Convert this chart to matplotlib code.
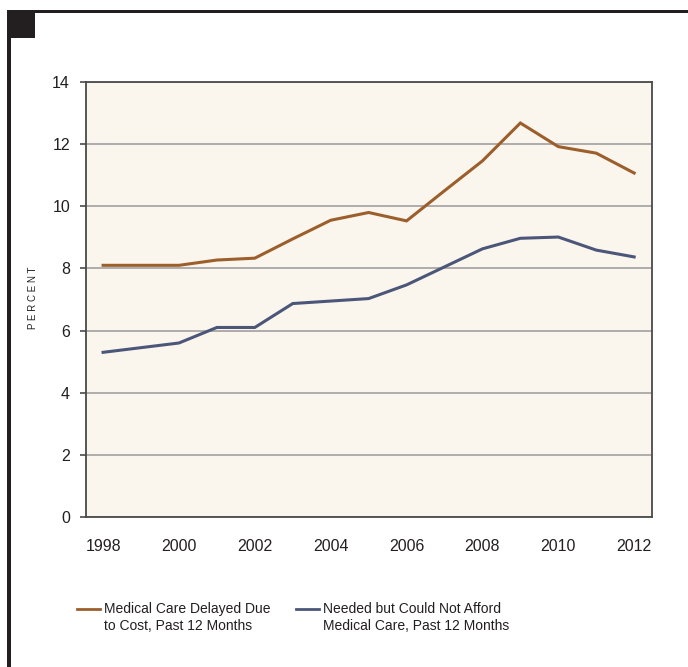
import matplotlib.pyplot as plt
from matplotlib.patches import Rectangle
from matplotlib.lines import Line2D

plt.rcParams['font.family'] = ['Liberation Sans', 'DejaVu Sans']

years = [1998, 1999, 2000, 2001, 2002, 2003, 2004, 2005, 2006, 2007, 2008, 2009, 2010, 2011, 2012]
delayed = [8.1, 8.1, 8.1, 8.27, 8.33, 8.95, 9.55, 9.8, 9.53, 10.5, 11.46, 12.68, 11.92, 11.71, 11.07]
not_afford = [5.3, 5.45, 5.6, 6.1, 6.1, 6.87, 6.95, 7.03, 7.47, 8.05, 8.63, 8.97, 9.01, 8.59, 8.37]

labels = ['Medical Care Delayed Due\nto Cost, Past 12 Months',
          'Needed but Could Not Afford\nMedical Care, Past 12 Months']
colors = ['#9C5F2C', '#4B5679']

fig = plt.figure(figsize=(6.88, 6.67), dpi=100)
W, H = 688, 667
ax = fig.add_axes([86 / W, 1 - 517 / H, (652 - 86) / W, (517 - 82) / H])

ax.set_facecolor('#FAF6EE')
ax.plot(years, delayed, color=colors[0], lw=2.2, solid_joinstyle='miter')
ax.plot(years, not_afford, color=colors[1], lw=2.2, solid_joinstyle='miter')

ax.set_xlim(1997.55, 2012.47)
ax.set_ylim(0, 14)
ax.set_xticks(range(1998, 2013, 2))
ax.set_yticks(range(0, 15, 2))
ax.yaxis.grid(True, color='#A0A0A0', lw=1.2)
ax.set_axisbelow(True)
for s in ax.spines.values():
    s.set_color('#4A4A4A')
    s.set_linewidth(1.3)
ax.tick_params(axis='x', length=0, pad=16, labelsize=11.5, colors='#231F20')
ax.tick_params(axis='y', length=4.5, width=1.2, color='#4A4A4A', pad=7, labelsize=11.5, labelcolor='#231F20')

fig.text(33 / W, 1 - 298 / H, 'P E R C E N T', rotation=90, fontsize=7,
         ha='center', va='center', color='#231F20')

# legend drawn as figure lines + text
for i, (x0, lbl) in enumerate(zip([77, 296], labels)):
    fig.add_artist(Line2D([x0 / W, (x0 + 23) / W], [1 - 609 / H] * 2, color=colors[i], lw=2))
    fig.text((x0 + 27) / W, 1 - 602 / H, lbl, fontsize=10, va='top', ha='left',
             color='#231F20', linespacing=1.3)

# page frame
fig.add_artist(Rectangle((7 / W, 1 - 13 / H), 1, 3 / H, transform=fig.transFigure, color='#231F20', lw=0))
fig.add_artist(Rectangle((7 / W, 0), 4 / W, 1 - 10 / H, transform=fig.transFigure, color='#231F20', lw=0))
fig.add_artist(Rectangle((7 / W, 1 - 38 / H), 28 / W, 25 / H, transform=fig.transFigure, color='#231F20', lw=0))

fig.savefig('out.png', dpi=100)
